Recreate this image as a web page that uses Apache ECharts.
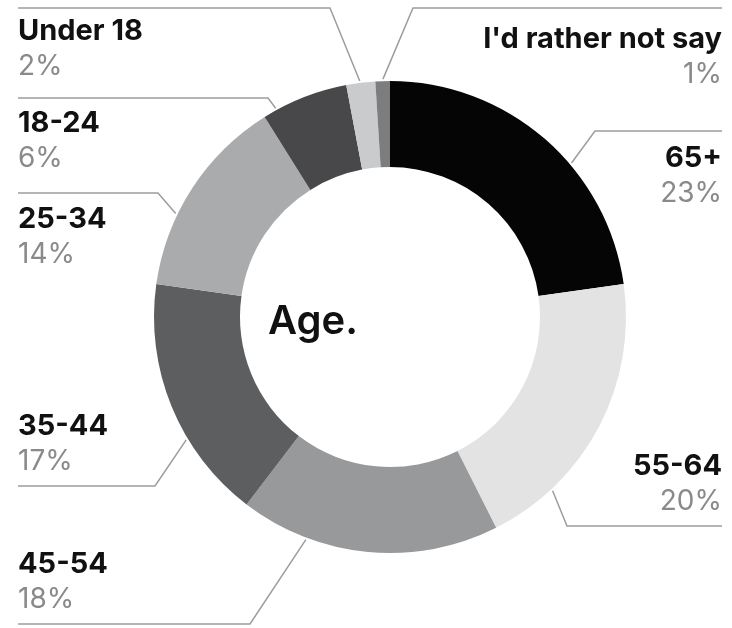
<!DOCTYPE html>
<html><head><meta charset="utf-8">
<script src="https://cdn.jsdelivr.net/npm/echarts@6/dist/echarts.min.js"></script>
<style>html,body{margin:0;padding:0;background:#fff}#c{width:732px;height:628px}</style>
</head><body><div id="c"></div>
<script>
// ---- data ----
const categories = ['65+', '55-64', '45-54', '35-44', '25-34', '18-24', 'Under 18', "I'd rather not say"];
const values = [23, 20, 18, 17, 14, 6, 2, 1];
const centerTitle = 'Age.';

// ---- styling / layout (not data) ----
const colors = ['#050505', '#e3e3e3', '#97999b', '#5c5e60', '#a9abad', '#48484b', '#c9cbcd', '#7b7d7f'];
const CX = 390, CY = 317, R_IN = 150, R_OUT = 236;
const LAYOUT = [
  { side: 'right', top: 141, lineY: 131, elbowX: 595, ang: 49.7 },
  { side: 'right', top: 449, lineY: 526, elbowX: 567, ang: 136.9 },
  { side: 'left',  top: 547, lineY: 624, elbowX: 250, ang: 200.7 },
  { side: 'left',  top: 409, lineY: 486, elbowX: 155, ang: 238.9 },
  { side: 'left',  top: 202, lineY: 193, elbowX: 158, ang: 295.8 },
  { side: 'left',  top: 106, lineY: 98,  elbowX: 268, ang: 331.3 },
  { side: 'left',  top: 14,  lineY: 8,   elbowX: 330, ang: 352.7 },
  { side: 'right', top: 22,  lineY: 8,   elbowX: 413, ang: 358.3 }
];
const LEFT_X = 18, RIGHT_X = 722;

const chart = echarts.init(document.getElementById('c'), null, { renderer: 'canvas' });
chart.setOption({
  animation: false,
  backgroundColor: '#fff',
  color: colors,
  graphic: [{
    type: 'text', left: 268, top: 302,
    style: { text: centerTitle, fontFamily: 'Inter', fontSize: 40, fontWeight: 600, fill: '#111' }
  }],
  series: [{
    type: 'pie',
    center: [CX, CY],
    radius: [R_IN, R_OUT],
    startAngle: 90,
    clockwise: true,
    avoidLabelOverlap: false,
    silent: true,
    itemStyle: { borderWidth: 0 },
    emphasis: { disabled: true },
    data: categories.map((c, i) => ({ name: c, value: values[i] })),
    label: {
      show: true,
      position: 'outside',
      formatter: p => '{n|' + p.name + '}\n{p|' + p.value + '%}',
      rich: {
        n: { fontFamily: 'Inter', fontSize: 29, fontWeight: 700, color: '#111', lineHeight: 35 },
        p: { fontFamily: 'Inter', fontSize: 28, fontWeight: 400, color: '#8a8a8a', lineHeight: 35 }
      }
    },
    labelLine: { show: true, lineStyle: { color: '#9d9d9d', width: 1.5 } },
    labelLayout: function (p) {
      const L = LAYOUT[p.dataIndex];
      const a = L.ang * Math.PI / 180;
      const ex = CX + (R_OUT + 2) * Math.sin(a), ey = CY - (R_OUT + 2) * Math.cos(a);
      const tx = L.side === 'left' ? LEFT_X : RIGHT_X;
      return {
        x: tx, y: L.top, align: L.side, verticalAlign: 'top',
        labelLinePoints: [[ex, ey], [L.elbowX, L.lineY], [tx, L.lineY]]
      };
    }
  }]
});
</script>
</body></html>
